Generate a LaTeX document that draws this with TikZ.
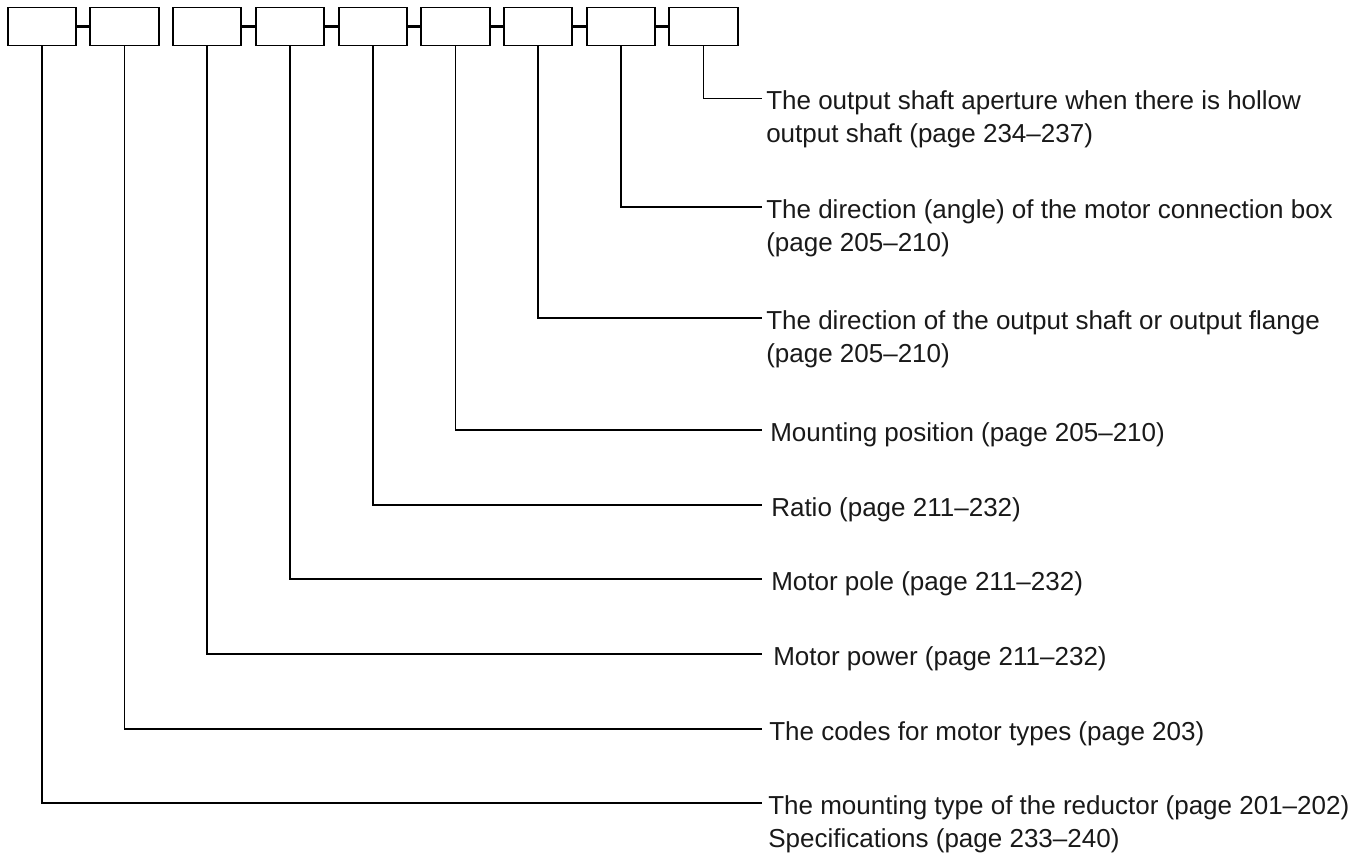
\documentclass[tikz,border=0pt]{standalone}
\usepackage{fontspec}
\setmainfont{Liberation Sans}
\begin{document}
\begin{tikzpicture}[x=0.75pt,y=-0.75pt,
  codebox/.style={draw=black,line width=1.3pt,minimum width=51.5pt,minimum height=28.5pt,inner sep=0pt},
  joint/.style={line width=1.9pt},
  leader/.style={line width=0.95pt},
  lbl/.style={anchor=base west,inner sep=0pt,text=black!90,font=\fontsize{19.5pt}{24.9pt}\selectfont}]
\useasboundingbox (0,0) rectangle (1364,858);
% code boxes
\node[codebox] (b1) at (42,26.5) {};
\node[codebox] (b2) at (124.5,26.5) {};
\node[codebox] (b3) at (207,26.5) {};
\node[codebox] (b4) at (290,26.5) {};
\node[codebox] (b5) at (373,26.5) {};
\node[codebox] (b6) at (455.5,26.5) {};
\node[codebox] (b7) at (538,26.5) {};
\node[codebox] (b8) at (621,26.5) {};
\node[codebox] (b9) at (703.5,26.5) {};
% joints between boxes
\draw[joint] (b1) -- (b2);
\draw[joint] (b3) -- (b4);
\draw[joint] (b4) -- (b5);
\draw[joint] (b5) -- (b6);
\draw[joint] (b6) -- (b7);
\draw[joint] (b7) -- (b8);
\draw[joint] (b8) -- (b9);
% leader ends
\coordinate (e9) at (762,98.3);
\coordinate (e8) at (762,207);
\coordinate (e7) at (762,318);
\coordinate (e6) at (762,430);
\coordinate (e5) at (762,505);
\coordinate (e4) at (762,579);
\coordinate (e3) at (762,654);
\coordinate (e2) at (762,729);
\coordinate (e1) at (762,803);
% leaders
\draw[leader] (b9.south) |- (e9);
\draw[leader] (b8.south) |- (e8);
\draw[leader] (b7.south) |- (e7);
\draw[leader] (b6.south) |- (e6);
\draw[leader] (b5.south) |- (e5);
\draw[leader] (b4.south) |- (e4);
\draw[leader] (b3.south) |- (e3);
\draw[leader] (b2.south) |- (e2);
\draw[leader] (b1.south) |- (e1);
% labels
\node[lbl] (t9) at (766,109.3) {\begin{tabular}[t]{@{}l@{}}The output shaft aperture when there is hollow\\output shaft (page 234–237)\end{tabular}};
\node[lbl] (t8) at (766,218) {\begin{tabular}[t]{@{}l@{}}The direction (angle) of the motor connection box\\(page 205–210)\end{tabular}};
\node[lbl] (t7) at (766,329) {\begin{tabular}[t]{@{}l@{}}The direction of the output shaft or output flange\\(page 205–210)\end{tabular}};
\node[lbl] (t6) at (770,441) {Mounting position (page 205–210)};
\node[lbl] (t5) at (771,516) {Ratio (page 211–232)};
\node[lbl] (t4) at (771,590) {Motor pole (page 211–232)};
\node[lbl] (t3) at (773,665) {Motor power (page 211–232)};
\node[lbl] (t2) at (769,740) {The codes for motor types (page 203)};
\node[lbl] (t1) at (768,814) {\begin{tabular}[t]{@{}l@{}}The mounting type of the reductor (page 201–202)\\Specifications (page 233–240)\end{tabular}};
\end{tikzpicture}
\end{document}
